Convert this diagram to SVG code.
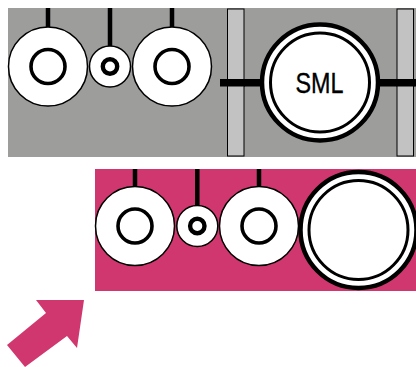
<svg xmlns="http://www.w3.org/2000/svg" width="416" height="367" viewBox="0 0 416 367">
<style>
.w{fill:#fff;stroke:#000;stroke-width:1.5}
.i{fill:#fff;stroke:#000;stroke-width:3.6}
.s{fill:#fff;stroke:#000;stroke-width:4.4}
.o{fill:#fff;stroke:#000;stroke-width:4.5}
.n{fill:none;stroke:#000;stroke-width:3}
.l{stroke:#000;fill:none}
.b{fill:#c2c2c2;stroke:#000;stroke-width:1}
</style>
<rect id="gray-panel" x="8" y="8" width="408" height="149" fill="#9d9d9c"/>
<rect id="pink-panel" x="95" y="169" width="321" height="122" fill="#d1376f"/>
<g id="connectors">
<path class="l" stroke-width="4.5" d="M48 8V28M110 8V46M172 8V28M135 169V187M197.300 169V206M259 169V187"/>
<path class="l" stroke-width="7.500" d="M220 82.800H262M378 82.800H416"/>
</g>
<g id="bar-1"><rect class="b" x="227.500" y="9" width="16.500" height="147"/><rect x="227" y="79" width="18" height="7.500"/></g>
<g id="bar-2"><rect class="b" x="397" y="9" width="16.500" height="147"/><rect x="396.500" y="79" width="18" height="7.500"/></g>
<g id="gear-1"><circle class="w" cx="48" cy="66.500" r="39.500"/><circle class="i" cx="48" cy="66.500" r="17"/></g>
<g id="gear-2"><circle class="w" cx="110" cy="66.500" r="20.500"/><circle class="s" cx="110" cy="66.500" r="7.200"/></g>
<g id="gear-3"><circle class="w" cx="172" cy="66.500" r="39.500"/><circle class="i" cx="172" cy="66.500" r="17"/></g>
<g id="sml"><circle class="o" cx="320" cy="82.500" r="58"/><circle class="n" cx="320" cy="82.500" r="49.500"/>
<text x="319.500" y="93" text-anchor="middle" font-family="'Liberation Sans',Arial,sans-serif" font-size="30" stroke="#000" stroke-width="0.350" textLength="48" lengthAdjust="spacingAndGlyphs">SML</text></g>
<g id="gear-4"><circle class="w" cx="135" cy="226" r="39.500"/><circle class="i" cx="135" cy="226" r="17"/></g>
<g id="gear-5"><circle class="w" cx="197.300" cy="226" r="20.500"/><circle class="s" cx="197.300" cy="226" r="7.200"/></g>
<g id="gear-6"><circle class="w" cx="259" cy="226" r="39.500"/><circle class="i" cx="259" cy="226" r="17"/></g>
<g id="circle-large"><circle class="o" cx="358.500" cy="230" r="58"/><circle class="n" cx="358.500" cy="230" r="49.500"/></g>
<polygon id="arrow" fill="#d1376f" points="36,300 84,300 77,348 67,336 25,367 7,345 46,313"/>
</svg>
